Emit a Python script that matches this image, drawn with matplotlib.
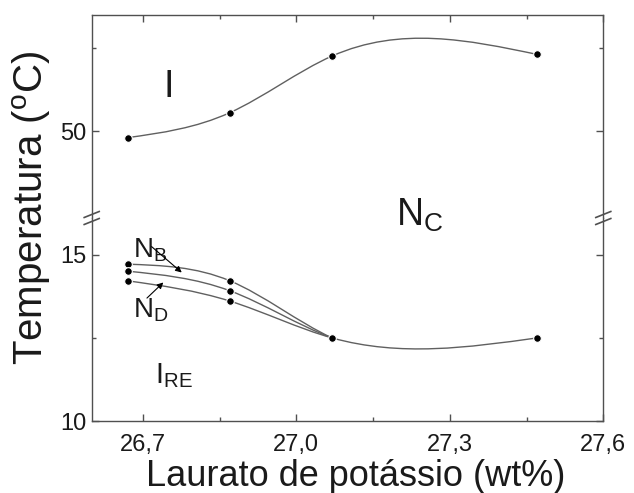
import numpy as np
import matplotlib
matplotlib.use('Agg')
import matplotlib.pyplot as plt
from matplotlib.path import Path
from matplotlib.patches import PathPatch

plt.rcParams['font.family'] = ['Liberation Sans', 'DejaVu Sans']
plt.rcParams['mathtext.default'] = 'regular'

# data
x = [26.67, 26.87, 27.07, 27.47]
t_iso = [49.6, 51.1, 54.5, 54.6]          # I -> Nc
t_upper = [14.72, 14.22, 12.5, 12.5]      # upper low-T line (Nb)
t_mid = [14.51, 13.92, 12.5, 12.5]
t_lower = [14.22, 13.61, 12.5, 12.5]      # lower low-T line (Nd)

xticks = [26.7, 27.0, 27.3, 27.6]
xtick_labels = ['26,7', '27,0', '27,3', '27,6']

LINE = '#606060'
SPINE = '#505050'
TXT = '#1a1a1a'


def spline_path(xs, ys, nseg=None):
    # natural cubic spline drawn as bezier segments
    xs = np.asarray(xs, float)
    ys = np.asarray(ys, float)
    n = len(xs)
    h = np.diff(xs)
    s = np.diff(ys) / h
    A = np.zeros((n, n))
    b = np.zeros(n)
    A[0, 0] = A[-1, -1] = 1
    for i in range(1, n - 1):
        A[i, i - 1] = h[i - 1]
        A[i, i] = 2 * (h[i - 1] + h[i])
        A[i, i + 1] = h[i]
        b[i] = 6 * (s[i] - s[i - 1])
    M = np.linalg.solve(A, b)
    m = np.zeros(n)
    for i in range(n - 1):
        m[i] = s[i] - h[i] * (2 * M[i] + M[i + 1]) / 6
    m[-1] = s[-1] + h[-1] * (M[-2] + 2 * M[-1]) / 6
    if nseg is None:
        nseg = n - 1
    verts = [(xs[0], ys[0])]
    codes = [Path.MOVETO]
    for i in range(nseg):
        d = h[i] / 3
        verts += [(xs[i] + d, ys[i] + m[i] * d),
                  (xs[i + 1] - d, ys[i + 1] - m[i + 1] * d),
                  (xs[i + 1], ys[i + 1])]
        codes += [Path.CURVE4] * 3
    return Path(verts, codes)


fig = plt.figure(figsize=(6.34, 4.93), dpi=100)
W, H = 634, 493
L, R = 91.7, 603.3
TOP, MID, BOT = 15, 218, 421
ax_top = fig.add_axes([L / W, 1 - MID / H, (R - L) / W, (MID - TOP) / H])
ax_bot = fig.add_axes([L / W, 1 - BOT / H, (R - L) / W, (BOT - MID) / H])

for ax in (ax_top, ax_bot):
    ax.set_xlim(26.6, 27.6)
    ax.set_xticks(xticks)
    ax.set_xticks([26.85, 27.15, 27.45], minor=True)
    for sp in ax.spines.values():
        sp.set_color(SPINE)
        sp.set_linewidth(1.0)
    ax.tick_params(which='both', direction='in', color=SPINE, width=1.0,
                   labelsize=17, labelcolor=TXT, left=True, right=True)
    ax.tick_params(which='major', length=5)
    ax.tick_params(which='minor', length=3)
    ax.tick_params(axis='y', pad=4)

ax_top.set_ylim(44.78, 56.96)
ax_top.set_yticks([50])
ax_top.set_yticks([55], minor=True)
ax_top.spines['bottom'].set_visible(False)
ax_top.tick_params(axis='x', which='both', bottom=False, top=True, labelbottom=False)

ax_bot.set_ylim(10, 16.11)
ax_bot.set_yticks([10, 15])
ax_bot.set_yticks([12.5], minor=True)
ax_bot.spines['top'].set_visible(False)
ax_bot.tick_params(axis='x', which='both', top=False, bottom=True, pad=9)
ax_bot.set_xticklabels(xtick_labels)

# curves
ax_top.add_patch(PathPatch(spline_path(x, t_iso), fill=False, ec=LINE, lw=1.0))
ax_bot.add_patch(PathPatch(spline_path(x, t_upper, 2), fill=False, ec=LINE, lw=1.0))
ax_bot.add_patch(PathPatch(spline_path(x, t_mid, 2), fill=False, ec=LINE, lw=1.0))
ax_bot.add_patch(PathPatch(spline_path(x, t_lower), fill=False, ec=LINE, lw=1.0))

mk = dict(ls='none', marker='o', ms=5.5, mfc='black', mec='white', mew=0.8, zorder=3)
ax_top.plot(x, t_iso, **mk)
ax_bot.plot(x, t_upper, **mk)
ax_bot.plot(x[:2], t_mid[:2], **mk)
ax_bot.plot(x[:2], t_lower[:2], **mk)

# phase labels
ax_top.text(26.751, 52.04, 'I', fontsize=27, ha='center', va='baseline', color=TXT)
ax_bot.text(27.195, 15.88, r'$N_C$', fontsize=27, ha='left', va='baseline', color=TXT)
ax_bot.text(26.681, 14.91, r'$N_B$', fontsize=20, ha='left', va='baseline', color=TXT)
ax_bot.text(26.681, 13.13, r'$N_D$', fontsize=20, ha='left', va='baseline', color=TXT)
ax_bot.text(26.723, 11.15, r'$I_{RE}$', fontsize=21, ha='left', va='baseline', color=TXT)

arr = dict(arrowstyle='-|>', color='black', lw=0.8, mutation_scale=9,
           shrinkA=0, shrinkB=0)
ax_bot.annotate('', xy=(26.776, 14.47), xytext=(26.717, 15.25), arrowprops=arr)
ax_bot.annotate('', xy=(26.740, 14.17), xytext=(26.708, 13.70), arrowprops=arr)

# axis break marks
for xp in (L, R):
    for d in (-3.5, 3.5):
        fig.add_artist(plt.Line2D([(xp - 7.5) / W, (xp + 7.5) / W],
                                  [1 - (MID + d + 3) / H, 1 - (MID + d - 3) / H],
                                  color=SPINE, lw=1.2))

fig.text(32 / W, 1 - 208 / H, r'Temperatura ($^o$C)', rotation=90,
         fontsize=29, ha='center', va='center', color=TXT)
fig.text(356 / W, 1 - 486 / H, 'Laurato de potássio (wt%)', fontsize=26,
         ha='center', va='baseline', color=TXT)

fig.savefig('out.png', dpi=100)
